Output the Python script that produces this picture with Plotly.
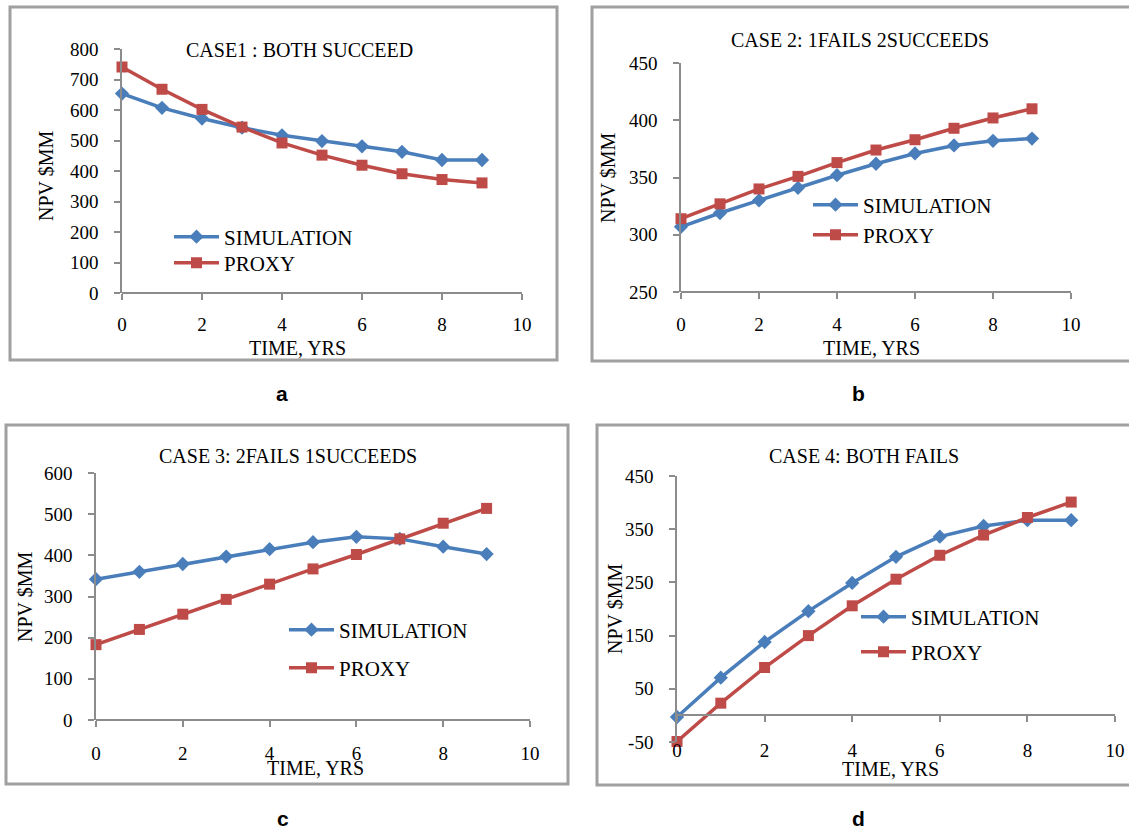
import plotly.graph_objects as go

W, H = 1129, 829

# ---- data -------------------------------------------------------------
years = [0, 1, 2, 3, 4, 5, 6, 7, 8, 9]

case1_sim = [654, 607, 572, 542, 517, 498, 481, 463, 436, 436]
case1_proxy = [741, 668, 602, 544, 492, 452, 419, 391, 372, 361]

case2_sim = [307, 319, 330, 341, 352, 362, 371, 378, 382, 384]
case2_proxy = [314, 327, 340, 351, 363, 374, 383, 393, 402, 410]

case3_sim = [342, 360, 379, 397, 415, 432, 445, 440, 421, 403]
case3_proxy = [183, 220, 257, 293, 330, 367, 402, 440, 478, 514]

case4_sim = [-3, 71, 138, 196, 249, 298, 336, 356, 367, 367]
case4_proxy = [-49, 23, 90, 150, 206, 256, 301, 339, 372, 401]

titles = ["CASE1 : BOTH SUCCEED", "CASE 2: 1FAILS 2SUCCEEDS",
          "CASE 3: 2FAILS 1SUCCEEDS", "CASE 4: BOTH FAILS"]
panel_letters = ["a", "b", "c", "d"]
y_ranges = [(0, 800), (250, 450), (0, 600), (-50, 450)]
y_steps = [100, 50, 100, 100]
x_ticks = [0, 2, 4, 6, 8, 10]

BLUE = "#4A7EBB"
RED = "#BE4B48"
AXIS = "#8C8C8C"
FRAME = "#A0A0A0"
SERIF = "Liberation Serif"


def px(x):
    return x / W


def py(y):
    return 1 - y / H


# plot-area boxes in pixels: (left, right, top, bottom)
boxes = [(122, 522, 49, 293), (681, 1071, 63, 292),
         (96, 530, 473, 720), (677, 1115, 476, 742)]
# outer chart frames: (left, right, top, bottom)
frames = [(10, 557, 7, 360), (592, 1140, 7, 361),
          (6, 568, 425, 784), (597, 1140, 425, 785)]
title_pos = [(299, 50), (860, 40), (288, 456), (864, 456)]
xtitle_pos = [(297, 348), (872, 348), (315, 768), (891, 769)]
ytitle_pos = [(46, 176), (608, 178), (25, 597), (615, 609)]
# legend rows: (left of legend box, centre y of SIMULATION row, of PROXY row)
legend_rows = [(169, 237, 263), (808, 205, 235), (284, 630, 668), (856, 617, 652)]
xtick_standoff = [8, 9, 10, 12]
letter_pos = [(282, 393), (858, 393), (283, 818), (858, 818)]

series = [(case1_sim, case1_proxy), (case2_sim, case2_proxy),
          (case3_sim, case3_proxy), (case4_sim, case4_proxy)]

fig = go.Figure()
layout = dict(
    width=W, height=H, margin=dict(l=0, r=0, t=0, b=0, autoexpand=False),
    paper_bgcolor="white", plot_bgcolor="white",
    font=dict(family=SERIF, color="#000"),
    showlegend=True, annotations=[], shapes=[],
)


def legend_box(x, y):
    return dict(
        x=px(x), y=py(y), xanchor="left", yanchor="middle",
        bgcolor="rgba(0,0,0,0)", borderwidth=0,
        font=dict(family=SERIF, size=21, color="#000"), itemwidth=45,
    )


for i in range(4):
    n = "" if i == 0 else str(i + 1)
    xa, ya = "x" + n, "y" + n
    leg_sim = "legend" + ("" if i == 0 else str(2 * i + 1))
    leg_proxy = "legend" + str(2 * i + 2)
    sim, proxy = series[i]
    fig.add_trace(go.Scatter(
        x=years, y=sim, name="SIMULATION", xaxis=xa, yaxis=ya,
        mode="lines+markers", legend=leg_sim,
        line=dict(color=BLUE, width=3.5),
        marker=dict(symbol="diamond", size=11, color=BLUE),
        cliponaxis=False))
    fig.add_trace(go.Scatter(
        x=years, y=proxy, name="PROXY", xaxis=xa, yaxis=ya,
        mode="lines+markers", legend=leg_proxy,
        line=dict(color=RED, width=3.5),
        marker=dict(symbol="square", size=11, color=RED),
        cliponaxis=False))

    l, r, t, b = boxes[i]
    y0, y1 = y_ranges[i]
    ybot, ytop = py(b), py(t)
    # x axis sits on y = 0 when the range crosses zero
    if y0 < 0 < y1:
        xpos = ybot + (0 - y0) / (y1 - y0) * (ytop - ybot)
    else:
        xpos = ybot
    y_ticks = list(range(y0, y1 + 1, y_steps[i]))
    layout["xaxis" + n] = dict(
        domain=[px(l), px(r)], range=[0, 10],
        tickvals=x_ticks, ticktext=[str(v) for v in x_ticks],
        anchor="free", position=xpos,
        showline=True, linecolor=AXIS, linewidth=1.5,
        ticks="outside", ticklen=6, tickwidth=1.5, tickcolor=AXIS,
        showgrid=False, zeroline=False, ticklabelstandoff=xtick_standoff[i],
        tickfont=dict(family=SERIF, size=19, color="#000"),
    )
    layout["yaxis" + n] = dict(
        domain=[ybot, ytop], range=[y0, y1],
        tickvals=y_ticks, ticktext=[str(v) for v in y_ticks],
        anchor=xa, showline=True, linecolor=AXIS, linewidth=1.5,
        ticks="outside", ticklen=6, tickwidth=1.5, tickcolor=AXIS,
        showgrid=False, zeroline=False, ticklabelstandoff=12,
        tickfont=dict(family=SERIF, size=19, color="#000"),
    )
    lx, ly_sim, ly_proxy = legend_rows[i]
    layout[leg_sim] = legend_box(lx, ly_sim)
    layout[leg_proxy] = legend_box(lx, ly_proxy)

    fl, fr, ft, fb = frames[i]
    layout["shapes"].append(dict(
        type="rect", xref="paper", yref="paper",
        x0=px(fl), x1=px(fr), y0=py(fb), y1=py(ft),
        line=dict(color=FRAME, width=3), layer="below"))

    def label(text, pos, size=20, angle=0, family=SERIF):
        layout["annotations"].append(dict(
            text=text, x=px(pos[0]), y=py(pos[1]), xref="paper", yref="paper",
            xanchor="center", yanchor="middle", showarrow=False,
            textangle=angle, font=dict(family=family, size=size, color="#000")))

    label(titles[i], title_pos[i])
    label("TIME, YRS", xtitle_pos[i])
    label("NPV $MM", ytitle_pos[i], angle=-90)
    label("<b>%s</b>" % panel_letters[i], letter_pos[i], size=21,
          family="Liberation Sans")

fig.update_layout(**layout)
fig.write_html("out.html")
